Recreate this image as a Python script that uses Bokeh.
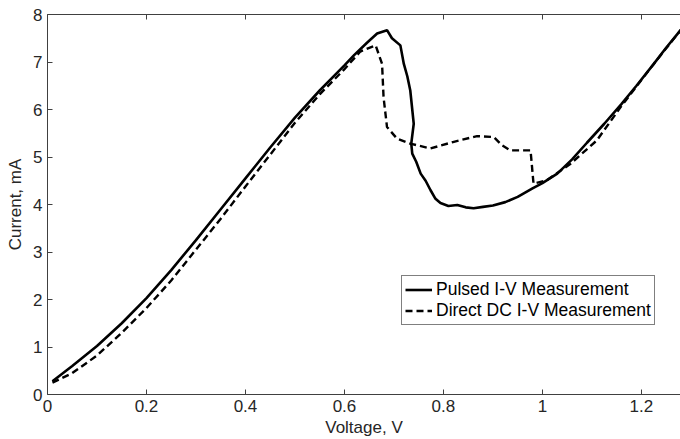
from bokeh.plotting import figure
from bokeh.models import Range1d, LinearAxis, Legend, LegendItem, FixedTicker, CustomJSTickFormatter
from bokeh.embed import file_html
from bokeh.resources import INLINE

# Pulsed I-V measurement (solid)
voltage_pulsed = [0.01, 0.05, 0.10, 0.15, 0.20, 0.25, 0.30, 0.35, 0.40, 0.45, 0.50, 0.55,
                  0.60, 0.62, 0.645, 0.666, 0.686, 0.696, 0.713, 0.720, 0.727, 0.733, 0.740,
                  0.735, 0.737, 0.745, 0.754, 0.764, 0.774, 0.784, 0.794, 0.81, 0.828, 0.845,
                  0.861, 0.88, 0.90, 0.925, 0.95, 0.98, 1.00, 1.03, 1.06, 1.09, 1.125, 1.16,
                  1.19, 1.225, 1.25, 1.28]
current_pulsed = [0.28, 0.60, 1.02, 1.50, 2.03, 2.62, 3.25, 3.90, 4.55, 5.20, 5.83, 6.40,
                  6.93, 7.15, 7.40, 7.60, 7.67, 7.50, 7.35, 6.96, 6.70, 6.40, 5.70,
                  5.28, 5.07, 4.90, 4.65, 4.50, 4.30, 4.12, 4.03, 3.97, 3.99, 3.94,
                  3.92, 3.95, 3.98, 4.05, 4.16, 4.34, 4.45, 4.65, 4.95, 5.30, 5.70, 6.12,
                  6.50, 6.96, 7.30, 7.68]

# Direct DC I-V measurement (dashed)
voltage_dc = [0.01, 0.05, 0.10, 0.15, 0.20, 0.25, 0.30, 0.35, 0.40, 0.45, 0.50, 0.55, 0.60,
              0.632, 0.663, 0.676, 0.679, 0.686, 0.706, 0.733, 0.774, 0.821, 0.868, 0.902,
              0.918, 0.935, 0.976, 0.979, 0.982, 1.009, 1.057, 1.11, 1.158, 1.225, 1.28]
current_dc = [0.25, 0.45, 0.82, 1.30, 1.82, 2.40, 3.05, 3.70, 4.38, 5.05, 5.72, 6.32, 6.85,
              7.22, 7.35, 6.96, 6.26, 5.63, 5.39, 5.28, 5.18, 5.32, 5.44, 5.42,
              5.25, 5.14, 5.14, 4.79, 4.44, 4.51, 4.86, 5.35, 6.05, 6.96, 7.68]

x_ticks = [0, 0.2, 0.4, 0.6, 0.8, 1.0, 1.2]
x_tick_labels = ["0", "0.2", "0.4", "0.6", "0.8", "1", "1.2"]
y_ticks = [0, 1, 2, 3, 4, 5, 6, 7, 8]

FONT = "Liberation Sans"
TXT = "#262626"
AX = "#404040"

p = figure(width=680, height=439, output_backend="svg", toolbar_location=None,
           x_range=Range1d(0, 1.279), y_range=Range1d(0, 8),
           min_border_left=47, min_border_right=0, min_border_top=14, min_border_bottom=44,
           x_axis_label="Voltage, V", y_axis_label="Current, mA")
p.outline_line_color = None
p.grid.visible = False
p.background_fill_color = "white"
p.border_fill_color = "white"

xfmt = CustomJSTickFormatter(args=dict(xt=x_ticks, xl=x_tick_labels),
                             code="const i = xt.findIndex(t => Math.abs(t - tick) < 1e-9); return i >= 0 ? xl[i] : '';")

xb = p.below[0]
yl = p.left[0]
xb.ticker = FixedTicker(ticks=x_ticks)
xb.formatter = xfmt
xb.major_label_standoff = 5
xb.axis_label_standoff = 3
yl.ticker = FixedTicker(ticks=y_ticks)
yl.major_label_standoff = 5
yl.axis_label_standoff = 5

top = LinearAxis(ticker=FixedTicker(ticks=x_ticks), major_label_text_font_size="1px",
                 major_label_text_color=None, major_label_standoff=0)
p.add_layout(top, "above")

for ax in [xb, yl, top]:
    ax.major_tick_in = 5
    ax.major_tick_out = 0
    ax.minor_tick_line_color = None
    ax.axis_line_color = AX
    ax.major_tick_line_color = AX
    ax.major_label_text_font = FONT
    ax.axis_label_text_font = FONT
    ax.axis_label_text_color = TXT
    ax.axis_label_text_font_style = "normal"
for ax in [xb, yl]:
    ax.major_label_text_color = TXT
    ax.major_label_text_font_size = "17px"
    ax.axis_label_text_font_size = "17px"

r_dc = p.line(voltage_dc, current_dc, line_color="black", line_width=2.4, line_dash="7 4")
r_pulsed = p.line(voltage_pulsed, current_pulsed, line_color="black", line_width=2.6)

legend = Legend(items=[LegendItem(label="Pulsed I-V Measurement", renderers=[r_pulsed]),
                       LegendItem(label="Direct DC I-V Measurement", renderers=[r_dc])],
                location=(354, 69), border_line_color="black", border_line_width=1,
                padding=3, spacing=0, margin=0, glyph_width=27, glyph_height=21,
                label_standoff=4, label_height=21, label_text_font=FONT,
                label_text_font_size="17.5px", label_text_color="black",
                background_fill_color="white", background_fill_alpha=1.0)
p.add_layout(legend, "center")

open("out.html", "w").write(file_html(p, INLINE))
